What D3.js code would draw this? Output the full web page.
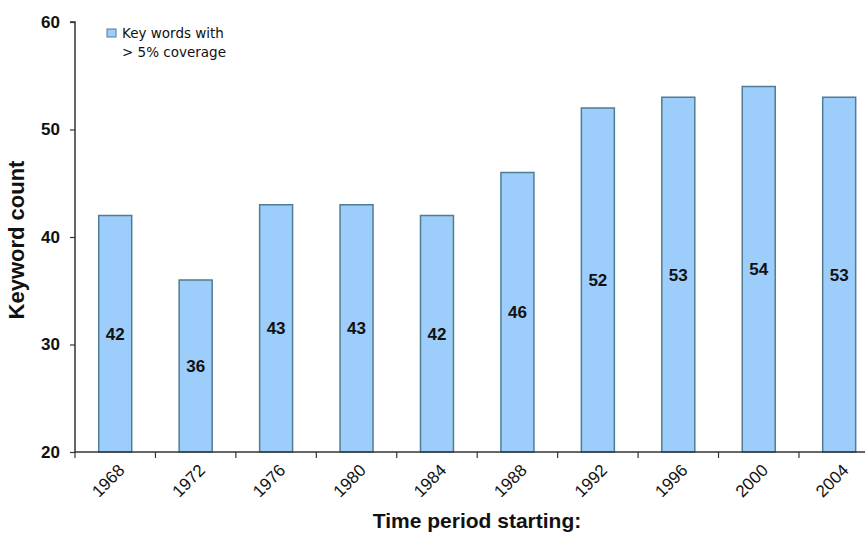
<!DOCTYPE html>
<html>
<head>
<meta charset="utf-8">
<script src="https://cdn.jsdelivr.net/npm/d3@7"></script>
<style>
  html, body { margin: 0; padding: 0; background: #fff; }
  svg { display: block; font-family: "Liberation Sans", Arial, sans-serif; }
</style>
</head>
<body>
<svg id="chart" width="865" height="535"></svg>
<script>
// Keyword counts per four-year period
const periods = ["1968", "1972", "1976", "1980", "1984", "1988", "1992", "1996", "2000", "2004"];
const keywordCounts = [42, 36, 43, 43, 42, 46, 52, 53, 54, 53];
const yTicks = [20, 30, 40, 50, 60];
const seriesName = ["Key words with", "> 5% coverage"];

const svg = d3.select("#chart");
const plotLeft = 75, plotBottom = 452, plotTop = 22;
const step = 80.44;

const x = d3.scaleBand()
  .domain(periods)
  .range([plotLeft, plotLeft + step * periods.length])
  .paddingInner(0.59)
  .paddingOuter(0.295);

const y = d3.scaleLinear().domain([20, 60]).range([plotBottom, plotTop]);

const fill = "#9dcdfa", stroke = "#4f7d94";

// bars
svg.append("g").selectAll("rect")
  .data(keywordCounts)
  .join("rect")
  .attr("x", (d, i) => x(periods[i]))
  .attr("y", d => y(d))
  .attr("width", x.bandwidth())
  .attr("height", d => y(20) - y(d))
  .attr("fill", fill)
  .attr("stroke", stroke)
  .attr("stroke-width", 1.5);

// value labels in the middle of each bar
svg.append("g").selectAll("text")
  .data(keywordCounts)
  .join("text")
  .attr("x", (d, i) => x(periods[i]) + x.bandwidth() / 2)
  .attr("y", d => (y(d) + y(20)) / 2)
  .attr("dy", "0.36em")
  .attr("text-anchor", "middle")
  .attr("font-size", 17)
  .attr("font-weight", "bold")
  .attr("fill", "#111")
  .text(d => d);

// y axis
const yAxis = svg.append("g")
  .attr("transform", `translate(${plotLeft},0)`)
  .call(d3.axisLeft(y).tickValues(yTicks).tickSize(5).tickPadding(10));
yAxis.select(".domain").attr("stroke", "#333").attr("stroke-width", 1.5).attr("d", `M-5,${plotTop}H0V${plotBottom}`);
yAxis.selectAll(".tick line").attr("stroke", "#333").attr("stroke-width", 1.2);
yAxis.selectAll(".tick text")
  .attr("font-size", 17).attr("font-weight", "bold").attr("fill", "#111")
  .attr("font-family", "Liberation Sans, Arial, sans-serif");

// x axis with ticks on band boundaries
const xAxis = svg.append("g").attr("transform", `translate(0,${plotBottom})`);
xAxis.append("line")
  .attr("x1", plotLeft).attr("x2", 865)
  .attr("stroke", "#333").attr("stroke-width", 1.5);
xAxis.selectAll("line.tk")
  .data(periods)
  .join("line")
  .attr("class", "tk")
  .attr("x1", (d, i) => plotLeft + i * step)
  .attr("x2", (d, i) => plotLeft + i * step)
  .attr("y1", 0).attr("y2", 6)
  .attr("stroke", "#333").attr("stroke-width", 1.2);
xAxis.selectAll("text")
  .data(periods)
  .join("text")
  .attr("transform", d => `translate(${x(d) + x.bandwidth() / 2 + 2},${11}) rotate(-45)`)
  .attr("text-anchor", "end")
  .attr("dy", "0.7em")
  .attr("font-size", 17)
  .attr("fill", "#111")
  .text(d => d);

// axis titles
svg.append("text")
  .attr("transform", `translate(24,240) rotate(-90)`)
  .attr("text-anchor", "middle")
  .attr("font-size", 22)
  .attr("font-weight", "bold")
  .attr("fill", "#111")
  .text("Keyword count");

svg.append("text")
  .attr("x", 477).attr("y", 528)
  .attr("text-anchor", "middle")
  .attr("font-size", 21)
  .attr("font-weight", "bold")
  .attr("fill", "#111")
  .text("Time period starting:");

// legend
const legend = svg.append("g").attr("transform", "translate(107,29)");
legend.append("rect")
  .attr("width", 9).attr("height", 8)
  .attr("fill", fill).attr("stroke", stroke).attr("stroke-width", 1);
legend.selectAll("text")
  .data(seriesName)
  .join("text")
  .attr("x", 15)
  .attr("y", (d, i) => 4 + i * 19)
  .attr("dy", "0.35em")
  .attr("font-size", 13.5)
  .attr("font-family", "DejaVu Sans, Verdana, sans-serif")
  .attr("fill", "#111")
  .text(d => d);
</script>
</body>
</html>
